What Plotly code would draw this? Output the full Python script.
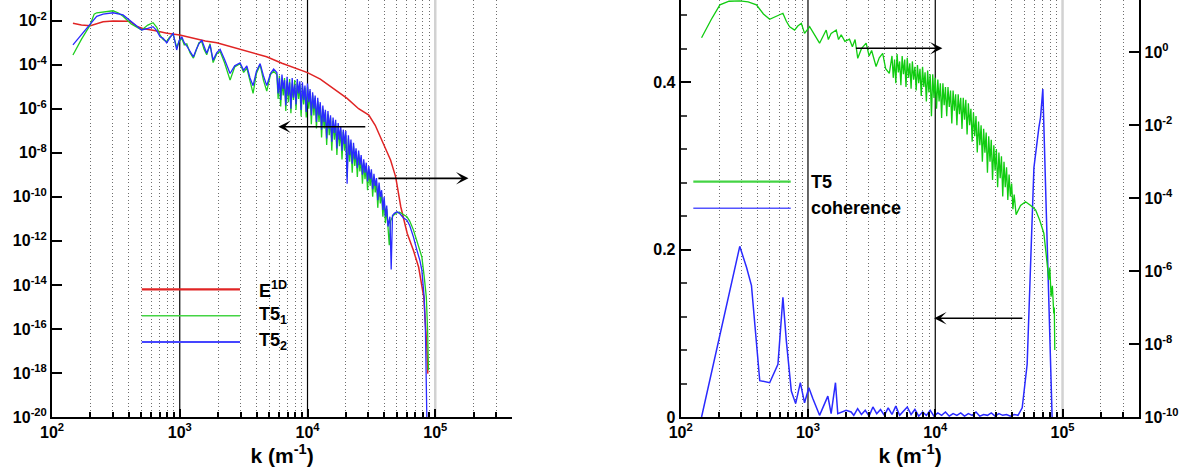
import numpy as np
import plotly.graph_objects as go

# ---------------- data ----------------
# Left panel: spectra vs wavenumber (log10 k, log10 value)
e1d_log10k = [2.164, 2.23, 2.30, 2.40, 2.478, 2.556, 2.61, 2.66, 2.71, 2.80, 2.90, 3.0, 3.1, 3.2, 3.29,
              3.4, 3.5, 3.6, 3.68, 3.8, 3.9, 3.94, 4.0, 4.1, 4.2, 4.31, 4.4, 4.48, 4.53, 4.57, 4.61,
              4.65, 4.69, 4.73, 4.78, 4.83, 4.87, 4.91, 4.934, 4.942]
e1d_log10 = [-2.12, -2.20, -2.23, -2.05, -2.01, -2.02, -2.03, -2.25, -2.35, -2.45, -2.57, -2.65, -2.80,
             -2.92, -3.0, -3.18, -3.37, -3.52, -3.64, -3.93, -4.15, -4.24, -4.36, -4.65, -5.05, -5.53,
             -6.0, -6.29, -6.75, -7.27, -7.8, -8.33, -9.09, -10.45, -11.65, -12.45, -13.2, -14.55,
             -16.8, -18.03]

t51_log10k = [2.164, 2.23, 2.298, 2.33, 2.35, 2.42, 2.478, 2.52, 2.556, 2.62, 2.702, 2.75, 2.791, 2.82,
              2.846, 2.87, 2.898, 2.92, 2.948, 2.976, 2.995, 3.016, 3.035, 3.055, 3.08, 3.107, 3.13,
              3.15, 3.172, 3.19, 3.211, 3.237, 3.261, 3.29, 3.316, 3.35, 3.394, 3.43, 3.472, 3.50,
              3.525, 3.55, 3.574, 3.60, 3.629, 3.655, 3.681, 3.71, 3.735,
              3.76, 3.77, 3.78, 3.79, 3.80, 3.81, 3.82, 3.83, 3.84, 3.85, 3.86, 3.87, 3.88, 3.89,
              3.90, 3.91, 3.92, 3.93, 3.94, 3.95, 3.96, 3.97, 3.98, 3.99, 4.00, 4.01, 4.02, 4.03,
              4.04, 4.05, 4.06, 4.07, 4.08, 4.09, 4.10, 4.11, 4.12, 4.13, 4.14, 4.15, 4.16, 4.17,
              4.18, 4.19, 4.20, 4.21, 4.22, 4.23, 4.24, 4.25, 4.26, 4.27, 4.28, 4.29, 4.30, 4.31,
              4.32, 4.33, 4.34, 4.35, 4.36, 4.37, 4.38, 4.39, 4.40, 4.41, 4.42, 4.43, 4.44, 4.45,
              4.46, 4.47, 4.48, 4.49, 4.50, 4.51, 4.52, 4.53, 4.54, 4.55, 4.56, 4.57, 4.58, 4.59,
              4.60, 4.61, 4.62, 4.63, 4.64, 4.65,
              4.67, 4.70, 4.72, 4.75, 4.778, 4.80, 4.829, 4.856, 4.88, 4.895, 4.913, 4.930, 4.940,
              4.947]
t51_log10 = [-3.56, -2.85, -2.20, -1.70, -1.64, -1.58, -1.55, -1.65, -1.80, -2.15, -2.42, -2.20, -2.09,
             -2.30, -2.65, -2.85, -2.95, -2.75, -2.62, -3.20, -2.95, -2.80, -3.10, -3.05, -3.45,
             -3.70, -3.35, -3.00, -2.95, -3.30, -3.55, -3.05, -3.90, -3.50, -3.40, -3.90, -4.70,
             -4.10, -3.95, -4.35, -4.15, -4.80, -5.30, -4.40, -4.00, -4.70, -5.20, -4.45, -4.30,
             -4.45, -5.55, -4.50, -5.90, -4.70, -5.40, -4.60, -6.10, -4.75, -5.70, -4.65, -6.20,
             -4.85, -5.60, -4.70, -6.05, -4.80, -5.55, -4.90, -6.35, -4.95, -5.80, -5.05, -6.40,
             -5.00, -6.00, -5.20, -6.70, -5.35, -6.30, -5.50, -6.90, -5.65, -6.60, -5.80, -7.30,
             -6.00, -6.90, -6.15, -7.65, -6.25, -7.20, -6.40, -7.90, -6.55, -7.40, -6.65, -8.10,
             -6.80, -7.70, -6.95, -8.30, -7.05, -7.90, -7.20, -9.10, -7.35, -8.40, -7.55, -8.90,
             -7.70, -8.60, -7.95, -9.10, -8.05, -8.85, -8.25, -9.40, -8.45, -9.20, -8.60, -9.70,
             -8.75, -9.50, -8.90, -10.00, -9.10, -9.80, -9.30, -10.50, -9.50, -10.30, -9.85,
             -10.90, -10.15, -11.20, -10.55, -11.50, -12.20, -11.10,
             -10.85, -10.72, -10.70, -10.80, -10.90, -11.10, -11.50, -12.00, -12.50, -12.73,
             -13.60, -14.55, -16.06, -17.88]

t52_log10k = [2.164, 2.23, 2.298, 2.35, 2.40, 2.478, 2.556, 2.62, 2.702, 2.75, 2.791, 2.82, 2.846,
              2.87, 2.898, 2.92, 2.948, 2.976, 2.995, 3.016, 3.035, 3.055, 3.08, 3.107, 3.13, 3.15,
              3.172, 3.19, 3.211, 3.237, 3.261, 3.29, 3.316, 3.35, 3.394, 3.43, 3.472, 3.50, 3.525,
              3.55, 3.574, 3.60, 3.629, 3.655, 3.681, 3.71, 3.735,
              3.76, 3.77, 3.78, 3.79, 3.80, 3.81, 3.82, 3.83, 3.84, 3.85, 3.86, 3.87, 3.88, 3.89,
              3.90, 3.91, 3.92, 3.93, 3.94, 3.95, 3.96, 3.97, 3.98, 3.99, 4.00, 4.01, 4.02, 4.03,
              4.04, 4.05, 4.06, 4.07, 4.08, 4.09, 4.10, 4.11, 4.12, 4.13, 4.14, 4.15, 4.16, 4.17,
              4.18, 4.19, 4.20, 4.21, 4.22, 4.23, 4.24, 4.25, 4.26, 4.27, 4.28, 4.29, 4.30, 4.31,
              4.32, 4.33, 4.34, 4.35, 4.36, 4.37, 4.38, 4.39, 4.40, 4.41, 4.42, 4.43, 4.44, 4.45,
              4.46, 4.47, 4.48, 4.49, 4.50, 4.51, 4.52, 4.53, 4.54, 4.55, 4.56, 4.57, 4.58, 4.59,
              4.60, 4.61, 4.62, 4.63,
              4.645, 4.655, 4.665, 4.68, 4.70, 4.72, 4.75, 4.778, 4.80, 4.829, 4.856, 4.88, 4.895,
              4.913, 4.923, 4.930, 4.934]
t52_log10 = [-3.10, -2.65, -2.20, -1.80, -1.70, -1.64, -1.74, -2.05, -2.42, -2.35, -2.27, -2.45,
             -2.73, -2.80, -3.01, -2.80, -2.56, -3.33, -2.90, -2.73, -3.00, -3.15, -3.40, -3.64,
             -3.30, -3.05, -2.88, -3.20, -3.48, -3.10, -3.79, -3.45, -3.30, -3.75, -4.40, -4.05,
             -3.92, -4.25, -4.05, -4.60, -4.95, -4.30, -3.95, -4.50, -4.95, -4.40, -4.20,
             -4.35, -5.30, -4.60, -5.60, -4.45, -5.10, -4.70, -5.85, -4.55, -5.40, -4.80, -6.00,
             -4.60, -5.50, -4.90, -5.80, -4.65, -5.30, -4.75, -6.05, -4.80, -5.60, -4.95, -6.15,
             -4.85, -5.70, -5.10, -6.30, -5.25, -6.00, -5.40, -6.60, -5.50, -6.30, -5.70, -6.95,
             -5.85, -6.60, -6.05, -7.35, -6.10, -6.90, -6.30, -7.50, -6.40, -7.10, -6.50, -7.80,
             -6.65, -7.40, -6.80, -7.90, -6.95, -7.60, -7.00, -9.40, -7.20, -8.10, -7.40, -8.50,
             -7.55, -8.30, -7.80, -8.70, -7.90, -8.55, -8.10, -9.00, -8.30, -8.90, -8.45, -9.30,
             -8.60, -9.20, -8.75, -9.65, -8.95, -9.50, -9.15, -10.15, -9.35, -10.00, -9.70,
             -10.60, -10.00, -10.90, -10.40, -11.35,
             -10.90, -13.30, -10.85, -10.75, -10.68, -10.75, -10.95, -11.06, -11.30, -11.82,
             -12.42, -12.90, -13.33, -14.55, -16.06, -18.00, -20.00]

# Right panel: T5 spectrum (right log axis) and coherence (left linear axis)
t5_log10k = [2.164, 2.24, 2.308, 2.38, 2.464, 2.53, 2.595, 2.65, 2.699, 2.75, 2.803, 2.83, 2.856,
             2.895, 2.92, 2.948, 2.973, 3.013, 3.04, 3.065, 3.091, 3.143, 3.16, 3.182, 3.222, 3.24,
             3.261, 3.29, 3.326, 3.349, 3.37, 3.391, 3.42, 3.457, 3.48, 3.50, 3.535, 3.56, 3.587,
             3.61, 3.639,
             3.66, 3.67, 3.68, 3.69, 3.70, 3.71, 3.72, 3.73, 3.74, 3.75, 3.76, 3.77, 3.78, 3.79,
             3.80, 3.81, 3.82, 3.83, 3.84, 3.85, 3.86, 3.87, 3.88, 3.89, 3.90, 3.91, 3.92, 3.93,
             3.94, 3.95, 3.96, 3.97, 3.98, 3.99, 4.00, 4.01, 4.02, 4.03, 4.04, 4.05, 4.06, 4.07,
             4.08, 4.09, 4.10, 4.11, 4.12, 4.13, 4.14, 4.15, 4.16, 4.17, 4.18, 4.19, 4.20, 4.21,
             4.22, 4.23, 4.24, 4.25, 4.26, 4.27, 4.28, 4.29, 4.30, 4.31, 4.32, 4.33, 4.34, 4.35,
             4.36, 4.37, 4.38, 4.39, 4.40, 4.41, 4.42, 4.43, 4.44, 4.45, 4.46, 4.47, 4.48, 4.49,
             4.50, 4.51, 4.52, 4.53, 4.54, 4.55, 4.56, 4.57, 4.58, 4.59, 4.60, 4.61, 4.62, 4.635,
             4.67, 4.709, 4.75, 4.788, 4.82, 4.853, 4.87, 4.892, 4.90, 4.91, 4.92, 4.931, 4.935,
             4.939]
t5_log10 = [0.40, 0.90, 1.30, 1.40, 1.41, 1.38, 1.30, 1.05, 0.905, 0.98, 1.07, 0.85, 0.70, 0.61,
            0.72, 0.795, 0.52, 0.70, 0.55, 0.43, 0.25, 0.61, 0.35, 0.52, 0.61, 0.35, 0.48, 0.30,
            0.36, 0.15, 0.35, -0.165, 0.10, 0.25, -0.10, 0.05, -0.39, -0.15, -0.03, -0.45, -0.58,
            -0.10, -0.70, -0.20, -0.85, -0.05, -0.55, -0.25, -0.90, -0.10, -0.60, -0.20, -0.95,
            -0.15, -0.70, -0.30, -1.00, -0.25, -0.75, -0.40, -1.05, -0.35, -0.85, -0.45, -1.20,
            -0.40, -0.95, -0.55, -1.35, -0.50, -1.10, -0.60, -1.75, -0.60, -1.25, -0.70, -1.55,
            -0.75, -1.35, -0.85, -1.80, -0.85, -1.45, -0.95, -1.75, -0.95, -1.50, -1.05, -1.95,
            -1.05, -1.60, -1.15, -2.00, -1.15, -1.70, -1.25, -2.10, -1.25, -1.85, -1.30, -2.25,
            -1.40, -2.00, -1.55, -2.45, -1.65, -2.30, -1.75, -2.75, -1.90, -2.55, -2.00, -3.00,
            -2.10, -2.75, -2.20, -3.30, -2.30, -3.00, -2.40, -3.50, -2.55, -3.25, -2.65, -3.70,
            -2.75, -3.45, -2.85, -3.95, -3.00, -3.70, -3.15, -4.05, -3.35, -3.95, -3.60, -4.30,
            -3.90, -4.45,
            -4.20, -4.10, -4.20, -4.32, -4.60, -4.96, -5.50, -6.24, -5.90, -6.70, -6.40, -7.16,
            -7.00, -8.16]

coh_log10k = [2.164, 2.464, 2.517, 2.556, 2.621, 2.699, 2.764, 2.803, 2.83, 2.869, 2.903, 2.94, 2.973,
              3.007, 3.038, 3.091, 3.156, 3.182, 3.216, 3.234, 3.30, 3.339,
              3.36, 3.39, 3.42, 3.45, 3.48, 3.51, 3.54, 3.57, 3.60, 3.63, 3.66, 3.69, 3.72, 3.75,
              3.78, 3.81, 3.84, 3.87, 3.90, 3.93, 3.96, 3.99, 4.02, 4.05, 4.08, 4.11, 4.14, 4.17,
              4.20, 4.23, 4.26, 4.29, 4.32, 4.35, 4.38, 4.41, 4.44, 4.47, 4.50, 4.53, 4.56, 4.59,
              4.62, 4.65, 4.683, 4.722, 4.761, 4.775, 4.814, 4.827, 4.845, 4.858, 4.879, 4.892,
              4.905, 4.918]
coherence = [0.0, 0.204, 0.179, 0.157, 0.0435, 0.041, 0.063, 0.143, 0.091, 0.031, 0.016, 0.041,
             0.017, 0.035, 0.022, 0.002, 0.025, 0.004, 0.041, 0.004, 0.008, 0.006,
             0.002, 0.010, 0.003, 0.008, 0.001, 0.012, 0.004, 0.009, 0.002, 0.011, 0.003, 0.013,
             0.002, 0.007, 0.012, 0.003, 0.009, 0.001, 0.006, 0.002, 0.008, 0.001, 0.005, 0.002,
             0.006, 0.001, 0.004, 0.002, 0.005, 0.001, 0.004, 0.002, 0.006, 0.001, 0.003, 0.002,
             0.005, 0.001, 0.004, 0.002, 0.003, 0.001, 0.003, 0.002, 0.011, 0.063, 0.224, 0.298,
             0.346, 0.358, 0.392, 0.318, 0.219, 0.143, 0.043, 0.0]

# axis ticks
x_tickvals = [1e2, 1e3, 1e4, 1e5]
x_ticktext = ["10<sup>2</sup>", "10<sup>3</sup>", "10<sup>4</sup>", "10<sup>5</sup>"]
x_minor = [m * 10 ** d for d in (2, 3, 4) for m in range(2, 10)] + [2e5, 3e5, 4e5]
decade_lines = [(1e3, "black", 1.2), (1e4, "black", 1.2), (1e5, "#d2d2d2", 2.5)]
yl_exps = [-2, -4, -6, -8, -10, -12, -14, -16, -18, -20]
yr_exps = [0, -2, -4, -6, -8, -10]
coh_ticks = [0, 0.2, 0.4]

# ---------------- figure ----------------
RED, GREEN, BLUE = "#e02424", "#1fcf1f", "#2a2aff"
FONT = "Liberation Sans"


def p10(a):
    return 10 ** np.asarray(a, dtype=float)


fig = go.Figure()
fig.add_trace(go.Scatter(x=p10(e1d_log10k), y=p10(e1d_log10), mode="lines",
                         line=dict(color=RED, width=1.5), xaxis="x", yaxis="y"))
fig.add_trace(go.Scatter(x=p10(t51_log10k), y=p10(t51_log10), mode="lines",
                         line=dict(color=GREEN, width=1.3), xaxis="x", yaxis="y"))
fig.add_trace(go.Scatter(x=p10(t52_log10k), y=p10(t52_log10), mode="lines",
                         line=dict(color=BLUE, width=1.3), xaxis="x", yaxis="y"))
fig.add_trace(go.Scatter(x=p10(t5_log10k), y=p10(t5_log10), mode="lines",
                         line=dict(color="#10cc10", width=1.3), xaxis="x2", yaxis="y4"))
fig.add_trace(go.Scatter(x=p10(coh_log10k), y=coherence, mode="lines",
                         line=dict(color=BLUE, width=1.5), xaxis="x2", yaxis="y3"))

dom_l = [52 / 1204, 512.3 / 1204]
dom_r = [680.7 / 1204, 1139.3 / 1204]
tickfont = dict(family=FONT, size=16, color="black", weight="bold")


def xax(domain, anchor):
    return dict(type="log", range=[2, 5.603], domain=domain, anchor=anchor,
                tickvals=x_tickvals, ticktext=x_ticktext, ticks="inside", ticklen=8,
                tickwidth=1.5, tickcolor="black",
                showline=True, linewidth=2, linecolor="black",
                showgrid=False, zeroline=False,
                tickfont=tickfont, automargin=False,
                minor=dict(tickvals=x_minor, showgrid=True, griddash="1px,2.5px",
                           gridcolor="#6e6e6e", gridwidth=1, ticks="inside", ticklen=5,
                           tickcolor="black"),
                title=dict(text="k (m<sup>-1</sup>)", standoff=2,
                           font=dict(family=FONT, size=21, color="black", weight="bold")))


def logy(exps, rng, side, anchor, overlaying=None):
    d = dict(type="log", range=rng, side=side, anchor=anchor,
             tickvals=[10.0 ** e for e in exps],
             ticktext=["10<sup>%d</sup>" % e for e in exps],
             ticks="inside", ticklen=10, tickwidth=1.5, tickcolor="black",
             showline=True, linewidth=2, linecolor="black", showgrid=False, zeroline=False,
             tickfont=tickfont, automargin=False, domain=[0, 1])
    if overlaying:
        d["overlaying"] = overlaying
    return d


fig.update_layout(
    width=1204, height=467, margin=dict(l=0, r=0, t=0, b=50),
    paper_bgcolor="white", plot_bgcolor="white", showlegend=False,
    xaxis=xax(dom_l, "y"),
    xaxis2=xax(dom_r, "y3"),
    yaxis=logy(yl_exps, [-20, -1.06], "left", "x"),
    yaxis2=logy(yr_exps, [-10, 1.434], "right", "x", overlaying="y"),
    yaxis3=dict(range=[0, 0.4985], anchor="x2", side="left", domain=[0, 1],
                tickvals=coh_ticks, ticktext=["0", "0.2", "0.4"],
                ticks="inside", ticklen=10, tickwidth=1.5, tickcolor="black",
                showline=True, linewidth=2, linecolor="black", showgrid=False, zeroline=False,
                tickfont=tickfont, automargin=False,
                minor=dict(dtick=0.04, tick0=0, ticks="inside", ticklen=6, tickcolor="#444",
                           showgrid=False)),
    yaxis4=logy(yr_exps, [-10, 1.434], "right", "x2", overlaying="y3"),
    font=dict(family=FONT, color="black"),
)

# decade grid lines (solid at 10^3, 10^4; light at 10^5)
for xr, yr in (("x", "y"), ("x2", "y3")):
    for xv, col, w in decade_lines:
        fig.add_shape(type="line", xref=xr, yref=yr + " domain", x0=xv, x1=xv, y0=0, y1=1,
                      line=dict(color=col, width=w), layer="below")

# arrows (log-axis annotation positions are in log10 units)
arrow = dict(showarrow=True, text="", arrowhead=3, arrowsize=1.3, arrowwidth=1.6,
             arrowcolor="black")
fig.add_annotation(xref="x", yref="y", axref="x", ayref="y", x=3.772, y=-6.82,
                   ax=4.464, ay=-6.82, **arrow)
fig.add_annotation(xref="x", yref="y", axref="x", ayref="y", x=5.26, y=-9.16,
                   ax=4.543, ay=-9.16, **arrow)
fig.add_annotation(xref="x2", yref="y3", axref="x2", ayref="y3", x=4.056, y=0.4408,
                   ax=3.365, ay=0.4408, **arrow)
fig.add_annotation(xref="x2", yref="y3", axref="x2", ayref="y3", x=3.991, y=0.118,
                   ax=4.696, ay=0.118, **arrow)

# hand-drawn style legends
legfont = dict(family=FONT, size=18, color="black", weight="bold")
left_leg = [("E<sup>1D</sup>", RED, 0.3062, 2.2), ("T5<sub>1</sub>", "#44d444", 0.2429, 1.5),
            ("T5<sub>2</sub>", "#4545ff", 0.1799, 2.2)]
for txt, col, yy, w in left_leg:
    fig.add_shape(type="line", xref="x domain", yref="y domain", x0=0.195, x1=0.4084,
                  y0=yy, y1=yy, line=dict(color=col, width=w))
    fig.add_annotation(xref="x domain", yref="y domain", x=0.4447, y=yy, text=txt,
                       showarrow=False, xanchor="left", yanchor="middle", font=legfont)
right_leg = [("T5", "#44d444", 0.5643, 2.2), ("coherence", "#5555ff", 0.5007, 1.5)]
for txt, col, yy, w in right_leg:
    fig.add_shape(type="line", xref="x2 domain", yref="y3 domain", x0=0.0275, x1=0.2399,
                  y0=yy, y1=yy, line=dict(color=col, width=w))
    fig.add_annotation(xref="x2 domain", yref="y3 domain", x=0.2798, y=yy, text=txt,
                       showarrow=False, xanchor="left", yanchor="middle", font=legfont)

fig.write_html("out.html")
